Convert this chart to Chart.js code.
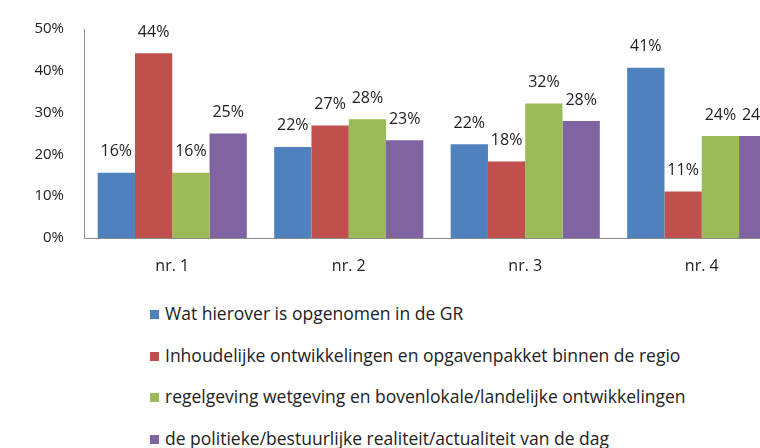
<!DOCTYPE html>
<html>
<head>
<meta charset="utf-8">
<script src="https://cdn.jsdelivr.net/npm/chart.js@4.4.1/dist/chart.umd.min.js"></script>
<style>
  html, body { margin: 0; padding: 0; background: #fff; overflow: hidden; }
  #wrap { position: relative; width: 760px; height: 448px; overflow: hidden; }
  #box { position: absolute; left: 0; top: 0; width: 790px; height: 290px; }
  #legend { position: absolute; left: 150px; top: 302px; font-family: "Open Sans", "Noto Sans", sans-serif; font-size: 17.5px; color: #222; }
  #legend div { height: 41.5px; line-height: 22px; white-space: nowrap; }
  #legend span.sw { display: inline-block; width: 9px; height: 9px; margin-right: 6px; vertical-align: 1px; }
</style>
</head>
<body>
<div id="wrap">
  <div id="box"><canvas id="chart"></canvas></div>
  <div id="legend"></div>
</div>
<script>
// categorieën en reeksen (percentages)
const categories = ['nr. 1', 'nr. 2', 'nr. 3', 'nr. 4'];
const seriesNames = [
  'Wat hierover is opgenomen in de GR',
  'Inhoudelijke ontwikkelingen en opgavenpakket binnen de regio',
  'regelgeving wetgeving en bovenlokale/landelijke ontwikkelingen',
  'de politieke/bestuurlijke realiteit/actualiteit van de dag'
];
const gr = [15.6, 21.8, 22.4, 40.7];
const inhoudelijk = [44.2, 26.9, 18.3, 11.1];
const regelgeving = [15.6, 28.4, 32.2, 24.4];
const politiek = [25.0, 23.4, 28.0, 24.4];
const yTicks = [0, 10, 20, 30, 40, 50];
const colors = ['#4f81bd', '#c0504d', '#9bbb59', '#8064a2'];

const FONT = '"Open Sans", "Noto Sans", sans-serif';

// labels boven de staven
const barLabels = {
  id: 'barLabels',
  afterDatasetsDraw(chart) {
    const ctx = chart.ctx;
    ctx.save();
    ctx.font = '16px ' + FONT;
    ctx.fillStyle = '#222';
    ctx.textAlign = 'center';
    ctx.textBaseline = 'middle';
    chart.data.datasets.forEach((ds, i) => {
      chart.getDatasetMeta(i).data.forEach((bar, j) => {
        ctx.fillText(Math.round(ds.data[j]) + '%', bar.x, bar.y - 21);
      });
    });
    ctx.restore();
  }
};

const allSeries = [gr, inhoudelijk, regelgeving, politiek];

new Chart(document.getElementById('chart'), {
  type: 'bar',
  data: {
    labels: categories,
    datasets: allSeries.map((d, i) => ({
      label: seriesNames[i],
      data: d,
      backgroundColor: colors[i],
      borderWidth: 0
    }))
  },
  options: {
    responsive: true,
    maintainAspectRatio: false,
    animation: false,
    datasets: { bar: { categoryPercentage: 0.845, barPercentage: 1.0 } },
    layout: { padding: { top: 22, right: 0, left: 0, bottom: 0 } },
    scales: {
      x: {
        grid: { display: false, drawTicks: false },
        border: { display: true, color: '#8c8c8c', width: 1 },
        ticks: { font: { family: FONT, size: 16 }, color: '#222', padding: 19 },
        afterFit: (s) => { s.height = 52; }
      },
      y: {
        min: 0,
        max: 50,
        afterBuildTicks: (s) => { s.ticks = yTicks.map(v => ({ value: v })); },
        grid: { display: false, drawTicks: false },
        border: { display: true, color: '#8c8c8c', width: 1 },
        ticks: {
          font: { family: FONT, size: 15 },
          color: '#222',
          padding: 20,
          callback: (v) => v + '%'
        },
        afterFit: (s) => { s.width = 84; }
      }
    },
    plugins: {
      legend: { display: false },
      tooltip: { enabled: false }
    }
  },
  plugins: [barLabels]
});

// legenda als lijst onder de grafiek
const legend = document.getElementById('legend');
seriesNames.forEach((name, i) => {
  const row = document.createElement('div');
  row.innerHTML = '<span class="sw" style="background:' + colors[i] + '"></span>' + name;
  legend.appendChild(row);
});
</script>
</body>
</html>
